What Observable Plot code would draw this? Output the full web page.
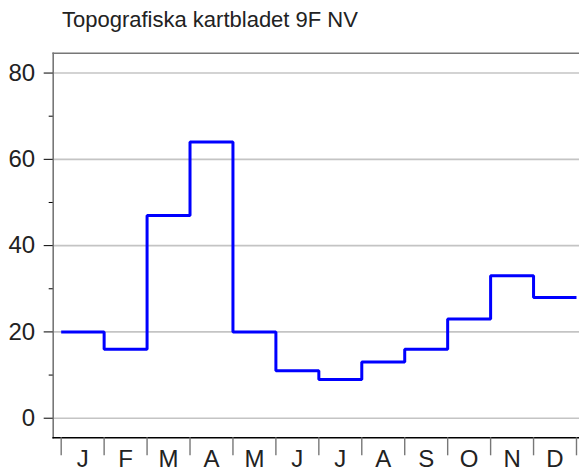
<!DOCTYPE html>
<html>
<head>
<meta charset="utf-8">
<script src="https://cdn.jsdelivr.net/npm/d3@7"></script>
<script src="https://cdn.jsdelivr.net/npm/@observablehq/plot@0.6"></script>
<style>
  body { margin: 0; background: #fff; font-family: "Liberation Sans", Arial, sans-serif; }
  #title { height: 40px; line-height: 40px; font-size: 22px; padding-left: 62px; color: #222; white-space: nowrap; }
  #chart svg { display: block; }
</style>
</head>
<body>
<div id="title">Topografiska kartbladet 9F NV</div>
<div id="chart"></div>
<script>
const title = "Topografiska kartbladet 9F NV";
const months = ["J","F","M","A","M","J","J","A","S","O","N","D"];
const values = [20, 16, 47, 64, 20, 11, 9, 13, 16, 23, 33, 28];
const yMajorTicks = [0, 20, 40, 60, 80];
const yMinorTicks = [10, 30, 50, 70];
const gridValues = [0, 20, 40, 60, 80];

// step points: each month starts at its index; final point closes December
const steps = values.map((v, i) => ({x: i, y: v}));
steps.push({x: values.length, y: values[values.length - 1]});
const monthBounds = d3.range(months.length + 1);
const monthCenters = months.map((m, i) => i + 0.5);

const plot = Plot.plot({
  width: 579,
  height: 431,
  marginLeft: 52.7,
  marginRight: 0,
  marginTop: 12.7,
  marginBottom: 33.7,
  style: {fontFamily: "'Liberation Sans', Arial, sans-serif", background: "#fff", color: "#222"},
  x: {type: "linear", domain: [-0.186, 12.07], axis: null},
  y: {domain: [-4.54, 84.6], axis: null},
  marks: [
    Plot.ruleY(gridValues, {stroke: "#c4c4c4", strokeWidth: 1.6}),
    Plot.line(steps, {x: "x", y: "y", curve: "step-after", stroke: "#0000ff", strokeWidth: 3, strokeLinejoin: "miter", strokeLinecap: "butt"}),
    Plot.frame({anchor: "left", stroke: "#777", strokeWidth: 1.6}),
    Plot.frame({anchor: "top", stroke: "#777", strokeWidth: 1.6}),
    Plot.frame({anchor: "bottom", stroke: "#000", strokeWidth: 1.6}),
    Plot.axisY({ticks: yMajorTicks, tickSize: 9, tickPadding: 9, fontSize: 24, stroke: "#000", label: null, tickFormat: d => String(d)}),
    Plot.axisY({ticks: yMinorTicks, tickSize: 4, tickFormat: () => "", label: null, stroke: "#000"}),
    Plot.axisX({ticks: monthBounds, tickSize: 18, tickFormat: () => "", label: null, stroke: "#777", strokeWidth: 1.4}),
    Plot.axisX({ticks: monthCenters, tickSize: 0, tickPadding: 12, fontSize: 24, label: null, tickFormat: d => months[Math.floor(d)]})
  ]
});
document.getElementById("chart").appendChild(plot);
</script>
</body>
</html>
